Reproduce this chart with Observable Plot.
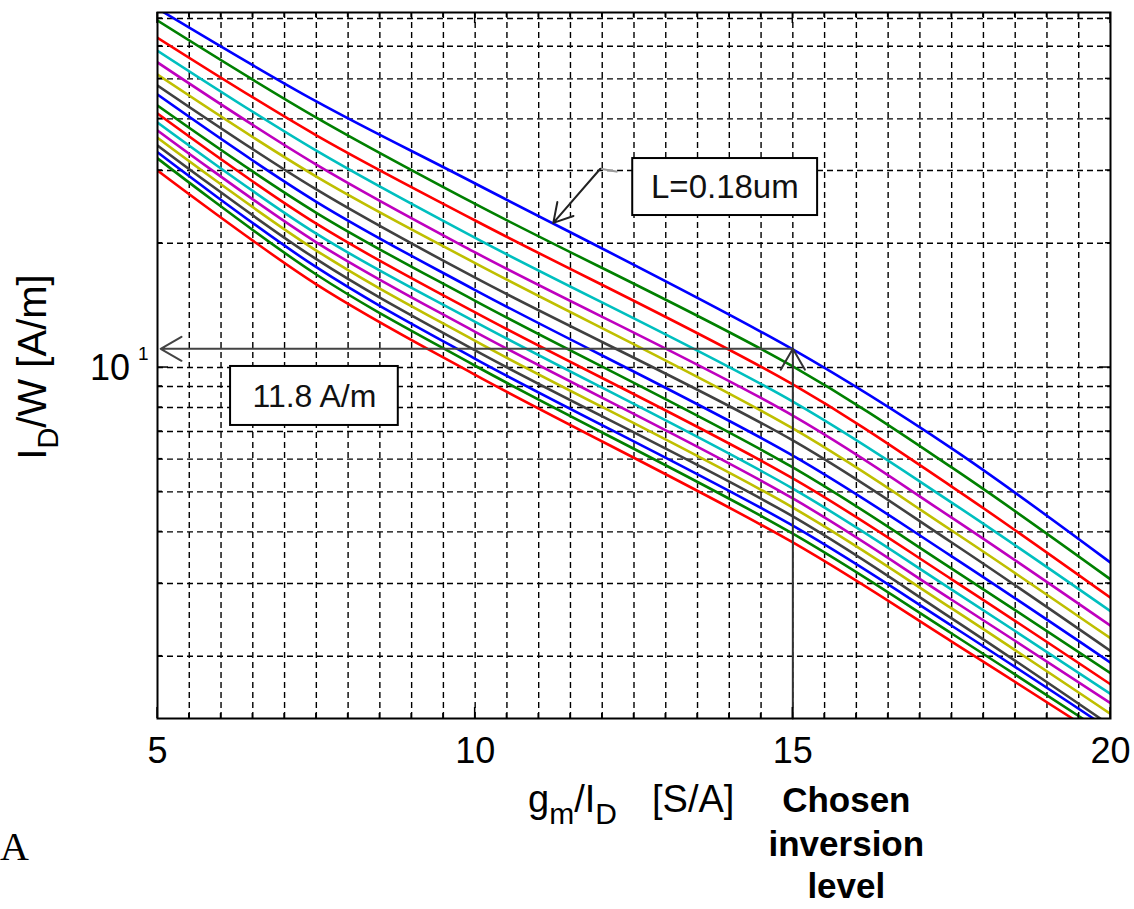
<!DOCTYPE html>
<html><head><meta charset="utf-8">
<script src="https://cdn.jsdelivr.net/npm/d3@7"></script>
<script src="https://cdn.jsdelivr.net/npm/@observablehq/plot@0.6"></script>
<style>
html,body{margin:0;padding:0;background:#fff;}
#chart{width:1134px;height:909px;overflow:hidden;position:relative;}
</style></head><body><div id="chart"></div>
<script>
// ---- data ----
const gmId = [5, 7.5, 10, 15, 17.5, 20];               // gm/ID [S/A] sample columns
const curveColors = ["#0000ff","#008000","#ff0000","#00bfbf","#bf00bf","#bfbf00","#404040",
                     "#0000ff","#008000","#ff0000","#00bfbf","#bf00bf","#bfbf00","#404040",
                     "#0000ff","#008000","#ff0000"];
const idwAt5    = [74.0, 69.2, 62.9, 58.5, 54.8, 51.2, 48.2, 45.8, 43.1, 41.2, 39.2, 37.5, 36.0, 34.5, 33.2, 32.1, 30.0];
const idwAt7p5  = [44.1, 40.3, 36.5, 33.5, 31.0, 29.0, 27.0, 25.2, 23.7, 22.3, 21.1, 20.1, 19.2, 18.3, 17.5, 16.8, 15.9];
const idwAt10   = [27.9, 24.9, 22.7, 20.6, 19.0, 17.9, 16.5, 15.4, 14.5, 13.6, 12.9, 12.2, 11.6, 11.0, 10.5, 10.1, 9.6];
const idwAt15   = [11.06, 10.06, 9.10, 8.27, 7.65, 7.12, 6.66, 6.12, 5.73, 5.39, 5.09, 4.82, 4.58, 4.36, 4.14, 3.96, 3.77];
const idwAt17p5 = [6.37, 5.73, 5.15, 4.71, 4.33, 4.03, 3.77, 3.49, 3.26, 3.07, 2.90, 2.74, 2.61, 2.47, 2.37, 2.27, 2.17];
const idwAt20   = [3.37, 3.07, 2.77, 2.57, 2.37, 2.21, 2.06, 1.93, 1.82, 1.71, 1.62, 1.54, 1.45, null, null, null, null];
const exitGmId  = [null, null, null, null, null, null, null, null, null, null, null, null, null, 19.84, 19.73, 19.56, 19.40];
const xDomain = [5, 20];
const yDomain = [1.413, 72.4];
const xTickLabels = [5, 10, 15, 20];
const xGridTicks = [5.5,6,6.5,7,7.5,8,8.5,9,9.5,10,10.5,11,11.5,12,12.5,13,13.5,14,14.5,15,15.5,16,16.5,17,17.5,18,18.5,19,19.5];
const yGridTicks = [2,3,4,5,6,7,8,9,10,20,30,40,50,60,70];
const yMajorTick = 10;
// annotations
const chosenGmId = 15;
const chosenIdw = 11.1;
const chosenLabel = "11.8 A/m";
const chosenBox = {x1: 6.15, x2: 8.79, y1: 7.24, y2: 10.06, tx: 7.47, ty: 8.5};
const lenLabel = "L=0.18um";
const lenBox = {x1: 12.48, x2: 15.39, y1: 23.34, y2: 32.07, tx: 13.93, ty: 27.3};
const lenArrow = {x1: 11.97, y1: 30.3, x2: 11.23, y2: 22.4, x3: 12.24, y3: 29.8};
const chosenText = ["Chosen", "inversion", "level"];

(function () {
const cols = [idwAt5, idwAt7p5, idwAt10, idwAt15, idwAt17p5, idwAt20];
const rows = [];
for (let i = 0; i < idwAt5.length; i++) {
  gmId.forEach((g, j) => { const v = cols[j][i]; if (v != null) rows.push({curve: i, gm: g, idw: v}); });
  if (exitGmId[i] != null) rows.push({curve: i, gm: exitGmId[i], idw: yDomain[0]});
}

const FONT = "'Liberation Sans', Arial, Helvetica, sans-serif";
const dash = "6,4";

const plot = Plot.plot({
  width: 1134, height: 909,
  marginLeft: 157, marginRight: 24, marginTop: 12, marginBottom: 191,
  style: {fontFamily: FONT, fontSize: "36px", background: "white", color: "black"},
  x: {domain: xDomain},
  y: {type: "log", domain: yDomain},
  color: {type: "ordinal", domain: d3.range(curveColors.length), range: curveColors},
  marks: [
    Plot.gridX(xGridTicks, {stroke: "black", strokeOpacity: 1, strokeWidth: 1.4, strokeDasharray: dash}),
    Plot.gridY(yGridTicks, {stroke: "black", strokeOpacity: 1, strokeWidth: 1.4, strokeDasharray: dash}),
    Plot.line(rows, {x: "gm", y: "idw", z: "curve", stroke: "curve", strokeWidth: 2.6, curve: "catmull-rom", clip: true}),
    Plot.axisX(xTickLabels, {anchor: "bottom", tickSize: 0, tickPadding: 19, fontSize: 36, label: null}),
    Plot.axisY([], {anchor: "left", label: null, tickSize: 0}),
    Plot.arrow([{x1: chosenGmId, y1: chosenIdw, x2: 5.05, y2: chosenIdw}], {x1: "x1", y1: "y1", x2: "x2", y2: "y2", stroke: "#444", strokeWidth: 2, headLength: 18}),
    Plot.arrow([{x1: chosenGmId, y1: yDomain[0], x2: chosenGmId, y2: chosenIdw}], {x1: "x1", y1: "y1", x2: "x2", y2: "y2", stroke: "#333", strokeWidth: 2, headLength: 18}),
    Plot.rect([chosenBox], {x1: "x1", x2: "x2", y1: "y1", y2: "y2", fill: "white", stroke: "black", strokeWidth: 2}),
    Plot.text([chosenBox], {x: "tx", y: "ty", text: () => chosenLabel, fontSize: 32, fill: "#111"}),
    Plot.link([lenArrow], {x1: "x1", y1: "y1", x2: "x3", y2: "y3", stroke: "#999", strokeWidth: 2}),
    Plot.arrow([lenArrow], {x1: "x1", y1: "y1", x2: "x2", y2: "y2", stroke: "#222", strokeWidth: 2, headLength: 16}),
    Plot.rect([lenBox], {x1: "x1", x2: "x2", y1: "y1", y2: "y2", fill: "white", stroke: "black", strokeWidth: 2}),
    Plot.text([lenBox], {x: "tx", y: "ty", text: () => lenLabel, fontSize: 33, fill: "#111"}),
    Plot.frame({stroke: "black", strokeWidth: 2})
  ]
});

document.getElementById("chart").appendChild(plot);

const svg = d3.select(plot);
const sx = plot.scale("x"), sy = plot.scale("y");
const X = v => sx.apply(v), Y = v => sy.apply(v);
const pLeft = X(xDomain[0]), pRight = X(xDomain[1]), pTop = Y(yDomain[1]), pBottom = Y(yDomain[0]);
const tg = svg.append("g").attr("stroke", "black").attr("stroke-width", 1.5);
[xDomain[0], ...xGridTicks, xDomain[1]].forEach(v => {
  const len = xTickLabels.includes(v) ? 11 : 5;
  tg.append("line").attr("x1", X(v)).attr("x2", X(v)).attr("y1", pBottom).attr("y2", pBottom - len);
  tg.append("line").attr("x1", X(v)).attr("x2", X(v)).attr("y1", pTop).attr("y2", pTop + len);
});
yGridTicks.forEach(v => {
  const len = v === yMajorTick ? 11 : 5;
  tg.append("line").attr("y1", Y(v)).attr("y2", Y(v)).attr("x1", pLeft).attr("x2", pLeft + len);
  tg.append("line").attr("y1", Y(v)).attr("y2", Y(v)).attr("x1", pRight).attr("x2", pRight - len);
});

const txt = svg.append("g").attr("font-family", FONT).attr("fill", "black").attr("text-anchor", "start");
const y10 = Y(yMajorTick);
txt.append("text").attr("x", 130).attr("y", y10 + 13).attr("text-anchor", "end").attr("font-size", 36).text("10");
txt.append("text").attr("x", 138).attr("y", y10 - 7).attr("text-anchor", "start").attr("font-size", 19).text("1");

const yl = txt.append("text").attr("transform", `translate(46,${(pTop + pBottom) / 2 + 2}) rotate(-90)`)
  .attr("text-anchor", "middle").attr("font-size", 40);
yl.append("tspan").text("I");
yl.append("tspan").attr("font-size", 29).attr("dy", 12).text("D");
yl.append("tspan").attr("dy", -12).text("/W [A/m]");

const xl = txt.append("text").attr("x", 528).attr("y", 812).attr("font-size", 38).attr("text-anchor", "start");
xl.append("tspan").text("g");
xl.append("tspan").attr("font-size", 30).attr("dy", 12).text("m");
xl.append("tspan").attr("dy", -12).text("/I");
xl.append("tspan").attr("font-size", 30).attr("dy", 12).text("D");
xl.append("tspan").attr("dy", -12).attr("x", 652).text("[S/A]");

const cx = X(chosenGmId) + 54;
[812, 856, 898].forEach((yy, k) => {
  txt.append("text").attr("x", cx).attr("y", yy).attr("text-anchor", "middle")
    .attr("font-size", 35).attr("font-weight", "bold").text(chosenText[k]);
});

txt.append("text").attr("x", 0).attr("y", 860).attr("text-anchor", "start")
  .attr("font-family", "'Liberation Serif', 'Times New Roman', serif").attr("font-size", 40).text("A");
})();
</script>
</body></html>
